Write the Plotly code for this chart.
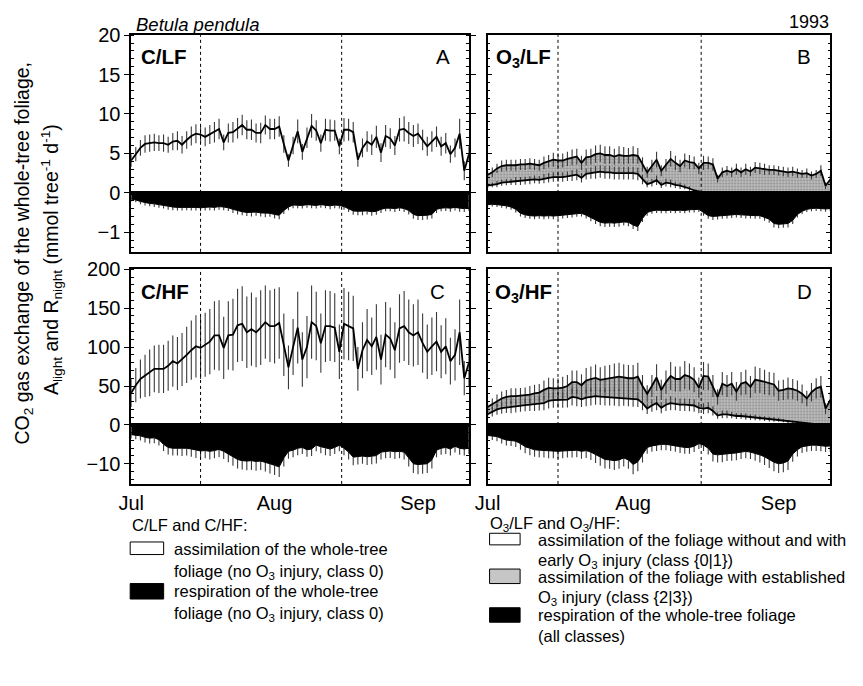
import plotly.graph_objects as go

# The page body has an 8 px margin, so the figure is 847 x 670 inside the 863 x 686 window.
W, H = 847, 670
OFF = 8

# ---------------- data ----------------
days = list(range(74))            # day index from 1 July 1993
month_ticks = [0, 31, 62]
month_labels = ["Jul", "Aug", "Sep"]
marker_days = [15, 45.5]          # dashed reference lines

# Panel A  (C/LF)  -- mmol tree-1 d-1
A_assim = [4.1, 4.9, 5.7, 6.2, 6.3, 6.4, 6.3, 6.3, 6.1, 6.5,
           6.6, 6.1, 6.7, 7.2, 7.5, 7.4, 7.1, 7.4, 7.7, 8.1,
           6.4, 7.6, 7.7, 8.2, 8.6, 8.0, 8.0, 7.6, 7.6, 8.6,
           8.1, 8.1, 8.4, 6.2, 4.1, 6.0, 7.8, 5.2, 7.0, 8.5,
           7.9, 6.3, 8.0, 7.9, 7.9, 5.9, 8.0, 8.0, 7.7, 4.2,
           5.7, 6.5, 6.1, 7.1, 5.1, 7.2, 6.9, 6.0, 8.0, 8.1,
           7.6, 7.2, 7.5, 6.7, 5.9, 6.5, 7.1, 5.9, 6.3, 4.9,
           5.7, 7.5, 2.8, 4.9]
A_assim_sd = [0.8, 0.9, 1.0, 1.1, 1.1, 1.1, 1.0, 1.1, 1.0, 1.1,
              1.2, 1.1, 1.1, 1.2, 1.2, 1.1, 1.2, 1.2, 1.3, 1.3,
              1.0, 1.2, 1.3, 1.3, 1.3, 1.2, 1.3, 1.2, 1.3, 1.2,
              1.3, 1.3, 1.3, 1.1, 0.8, 1.1, 1.5, 1.0, 1.3, 1.5,
              1.3, 1.1, 1.4, 1.4, 1.3, 1.0, 1.5, 1.4, 1.3, 0.9,
              1.2, 1.3, 1.3, 1.4, 1.2, 1.4, 1.3, 1.2, 1.5, 1.6,
              1.4, 1.4, 1.3, 1.3, 1.2, 1.3, 1.3, 1.2, 1.3, 1.1,
              1.2, 1.9, 1.2, 1.0]
A_resp = [-0.16, -0.18, -0.22, -0.25, -0.27, -0.28, -0.30, -0.32, -0.35, -0.36,
          -0.37, -0.37, -0.36, -0.37, -0.37, -0.38, -0.37, -0.36, -0.37, -0.35,
          -0.36, -0.38, -0.42, -0.46, -0.48, -0.50, -0.50, -0.49, -0.51, -0.52,
          -0.52, -0.55, -0.57, -0.45, -0.36, -0.31, -0.31, -0.32, -0.30, -0.31,
          -0.32, -0.30, -0.31, -0.33, -0.31, -0.32, -0.35, -0.40, -0.46, -0.47,
          -0.47, -0.46, -0.48, -0.47, -0.42, -0.39, -0.39, -0.40, -0.38, -0.40,
          -0.45, -0.55, -0.58, -0.58, -0.57, -0.55, -0.42, -0.39, -0.38, -0.39,
          -0.37, -0.39, -0.40, -0.38]
A_resp_sd = [0.06, 0.06, 0.07, 0.07, 0.07, 0.08, 0.08, 0.08, 0.08, 0.08,
             0.08, 0.08, 0.08, 0.08, 0.08, 0.09, 0.08, 0.08, 0.08, 0.08,
             0.08, 0.08, 0.09, 0.09, 0.09, 0.09, 0.10, 0.09, 0.09, 0.10,
             0.09, 0.10, 0.10, 0.09, 0.08, 0.08, 0.08, 0.08, 0.08, 0.08,
             0.08, 0.08, 0.08, 0.09, 0.08, 0.08, 0.08, 0.09, 0.10, 0.10,
             0.10, 0.09, 0.10, 0.09, 0.09, 0.08, 0.08, 0.09, 0.08, 0.09,
             0.10, 0.11, 0.11, 0.11, 0.11, 0.10, 0.09, 0.08, 0.08, 0.09,
             0.08, 0.09, 0.09, 0.08]

# Panel C  (C/HF)
C_assim = [41, 51, 59, 63, 67, 72, 72, 72, 76, 82,
           79, 84, 90, 96, 101, 99, 103, 107, 115, 115,
           99, 115, 116, 128, 130, 119, 123, 119, 125, 132,
           127, 127, 131, 103, 74, 100, 125, 84, 100, 132,
           127, 105, 127, 127, 125, 94, 130, 127, 124, 72,
           96, 109, 101, 113, 84, 116, 111, 96, 124, 127,
           119, 115, 119, 105, 94, 101, 107, 94, 101, 82,
           90, 119, 60, 80]
C_assim_sd = [18, 22, 25, 27, 30, 30, 31, 31, 32, 33,
              34, 34, 36, 38, 40, 40, 41, 42, 44, 45,
              40, 44, 46, 47, 48, 46, 47, 45, 48, 47,
              46, 48, 46, 40, 28, 36, 46, 35, 40, 47,
              44, 38, 46, 45, 44, 35, 46, 44, 42, 28,
              36, 40, 37, 42, 32, 42, 40, 36, 44, 45,
              42, 40, 42, 38, 35, 37, 38, 34, 36, 30,
              33, 42, 22, 30]
C_resp = [-2.5, -2.6, -2.8, -3.2, -3.4, -3.3, -3.8, -5.0, -5.8, -6.0,
          -6.0, -6.1, -6.0, -6.2, -6.5, -6.7, -6.6, -6.8, -6.6, -6.3,
          -6.8, -7.5, -8.3, -8.9, -9.2, -9.3, -9.2, -9.4, -9.3, -9.6,
          -10.0, -10.4, -10.8, -8.5, -6.8, -6.5, -6.0, -5.8, -6.4, -6.2,
          -5.2, -5.6, -6.0, -6.2, -5.8, -5.2, -6.0, -7.0, -8.3, -8.1,
          -8.0, -8.2, -8.1, -7.9, -7.0, -6.8, -6.7, -6.9, -6.8, -7.0,
          -8.5, -10.0, -10.2, -10.1, -10.0, -9.0, -6.5, -6.0, -5.8, -6.2,
          -5.5, -6.0, -6.2, -5.9]
C_resp_sd = [1.0, 1.1, 1.2, 1.3, 1.4, 1.4, 1.5, 1.7, 1.8, 1.9,
             1.9, 1.9, 1.9, 2.0, 2.0, 2.0, 2.0, 2.1, 2.0, 2.0,
             2.0, 2.1, 2.2, 2.3, 2.3, 2.4, 2.4, 2.4, 2.3, 2.4,
             2.5, 2.5, 2.6, 2.2, 1.9, 1.8, 1.8, 1.7, 1.8, 1.8,
             1.6, 1.7, 1.8, 1.8, 1.7, 1.6, 1.8, 1.9, 2.1, 2.1,
             2.0, 2.1, 2.0, 2.0, 1.9, 1.8, 1.8, 1.9, 1.8, 1.9,
             2.2, 2.4, 2.5, 2.5, 2.4, 2.2, 1.8, 1.7, 1.7, 1.7,
             1.6, 1.7, 1.7, 1.6]

# Panel B  (O3/LF): total assimilation and class {0|1} assimilation
B_total = [2.3, 2.6, 3.1, 3.4, 3.5, 3.5, 3.5, 3.6, 3.6, 3.7,
           3.6, 3.5, 3.8, 4.0, 4.2, 4.1, 4.1, 4.3, 4.5, 4.6,
           3.8, 4.5, 4.6, 4.9, 5.0, 4.8, 4.8, 4.6, 4.8, 4.7,
           4.7, 4.8, 4.7, 3.6, 2.6, 3.4, 4.2, 2.8, 3.5, 4.3,
           3.8, 3.4, 4.1, 3.9, 3.8, 3.1, 3.8, 3.8, 3.6, 1.8,
           2.6, 2.8, 2.6, 3.0, 2.6, 3.0, 2.7, 3.2, 3.1, 3.0,
           2.9, 2.9, 2.8, 2.7, 2.6, 2.7, 2.5, 2.4, 2.5, 2.2,
           2.4, 2.8, 0.9, 1.7]
B_total_sd = [0.5, 0.6, 0.6, 0.7, 0.7, 0.7, 0.7, 0.7, 0.7, 0.7,
              0.7, 0.7, 0.8, 0.8, 0.9, 0.9, 0.9, 0.9, 1.0, 1.0,
              0.9, 1.0, 1.0, 1.1, 1.1, 1.1, 1.1, 1.0, 1.1, 1.1,
              1.0, 1.1, 1.0, 0.9, 0.7, 0.8, 1.0, 0.7, 0.8, 1.0,
              0.9, 0.8, 0.9, 0.9, 0.8, 0.7, 0.9, 0.8, 0.8, 0.5,
              0.6, 0.6, 0.6, 0.7, 0.6, 0.7, 0.6, 0.7, 0.7, 0.7,
              0.6, 0.6, 0.6, 0.6, 0.6, 0.6, 0.6, 0.5, 0.6, 0.5,
              0.5, 0.7, 0.4, 0.5]
B_class01 = [0.9, 1.0, 1.1, 1.3, 1.35, 1.4, 1.5, 1.5, 1.55, 1.6,
             1.7, 1.65, 1.8, 1.9, 2.0, 2.0, 2.0, 2.1, 2.2, 2.3,
             1.9, 2.4, 2.5, 2.6, 2.7, 2.6, 2.6, 2.5, 2.5, 2.5,
             2.5, 2.5, 2.4, 1.7, 1.1, 1.3, 1.6, 1.0, 1.3, 1.2,
             1.0, 0.9, 0.75, 0.55, 0.3, 0.15, 0.05, 0.0, 0.0, 0.0,
             0.0, 0.0, 0.0, 0.0, 0.0, 0.0, 0.0, 0.0, 0.0, 0.0,
             0.0, 0.0, 0.0, 0.0, 0.0, 0.0, 0.0, 0.0, 0.0, 0.0,
             0.0, 0.0, 0.0, 0.0]
B_class01_sd = [0.3, 0.3, 0.4, 0.4, 0.4, 0.4, 0.5, 0.5, 0.5, 0.5,
                0.5, 0.5, 0.6, 0.6, 0.6, 0.6, 0.6, 0.6, 0.7, 0.7,
                0.6, 0.7, 0.7, 0.8, 0.8, 0.8, 0.8, 0.8, 0.8, 0.8,
                0.8, 0.8, 0.8, 0.6, 0.4, 0.5, 0.6, 0.4, 0.5, 0.5,
                0.4, 0.4, 0.3, 0.3, 0.2, 0.1, 0.05, 0.0, 0.0, 0.0,
                0.0, 0.0, 0.0, 0.0, 0.0, 0.0, 0.0, 0.0, 0.0, 0.0,
                0.0, 0.0, 0.0, 0.0, 0.0, 0.0, 0.0, 0.0, 0.0, 0.0,
                0.0, 0.0, 0.0, 0.0]
B_resp = [-0.30, -0.29, -0.30, -0.31, -0.33, -0.36, -0.42, -0.52, -0.56, -0.58,
          -0.59, -0.58, -0.59, -0.58, -0.59, -0.58, -0.57, -0.56, -0.55, -0.53,
          -0.52, -0.57, -0.63, -0.70, -0.75, -0.77, -0.76, -0.77, -0.76, -0.74,
          -0.75, -0.82, -0.86, -0.65, -0.50, -0.46, -0.44, -0.45, -0.45, -0.44,
          -0.45, -0.44, -0.45, -0.43, -0.43, -0.42, -0.50, -0.58, -0.60, -0.59,
          -0.58, -0.57, -0.56, -0.55, -0.56, -0.57, -0.57, -0.58, -0.58, -0.62,
          -0.67, -0.78, -0.80, -0.79, -0.78, -0.70, -0.55, -0.47, -0.42, -0.40,
          -0.39, -0.40, -0.41, -0.40]
B_resp_sd = [0.06, 0.06, 0.06, 0.07, 0.07, 0.07, 0.08, 0.08, 0.08, 0.08,
             0.08, 0.08, 0.08, 0.08, 0.08, 0.08, 0.08, 0.08, 0.08, 0.08,
             0.08, 0.08, 0.09, 0.09, 0.10, 0.10, 0.10, 0.10, 0.10, 0.09,
             0.10, 0.10, 0.11, 0.09, 0.08, 0.07, 0.07, 0.07, 0.07, 0.07,
             0.07, 0.07, 0.07, 0.07, 0.07, 0.07, 0.08, 0.08, 0.09, 0.09,
             0.08, 0.08, 0.08, 0.08, 0.08, 0.08, 0.08, 0.08, 0.08, 0.09,
             0.09, 0.10, 0.10, 0.10, 0.10, 0.09, 0.08, 0.07, 0.07, 0.07,
             0.07, 0.07, 0.07, 0.07]

# Panel D  (O3/HF)
D_total = [23, 27, 31, 34, 36, 37, 37, 37.5, 38, 39,
           40.5, 41.5, 45, 47.5, 47, 47, 48, 50, 55, 55,
           51, 57, 59, 60.5, 58, 59, 60, 61, 62, 61,
           60, 60, 62, 50, 40, 50, 61, 45, 55, 63,
           59, 59, 64, 62, 58, 48, 63, 62, 50, 36,
           53, 50, 53, 43, 53, 55, 49, 58, 57, 55,
           53, 52, 44, 45, 47, 46, 44, 40, 34, 42,
           47, 49, 21, 32]
D_total_sd = [6, 7, 8, 9, 9, 10, 10, 10, 10, 11,
              11, 11, 12, 13, 13, 13, 14, 14, 15, 15,
              14, 16, 16, 17, 16, 17, 17, 18, 18, 17,
              17, 17, 18, 14, 11, 14, 17, 13, 15, 18,
              16, 16, 18, 17, 16, 13, 18, 17, 14, 10,
              15, 14, 15, 12, 15, 16, 14, 17, 16, 16,
              15, 15, 13, 13, 14, 13, 13, 12, 10, 12,
              13, 14, 7, 10]
D_class01 = [13.7, 17, 20, 21.5, 22.5, 23, 24, 25, 25.5, 26,
             27, 27.5, 28, 31, 32, 32, 32, 32.5, 36, 35,
             33, 35, 36, 37, 36.5, 36, 36, 35.5, 35, 34.5,
             34, 33.5, 33, 28, 21, 25, 28, 22, 26, 28,
             27, 26, 26, 25.5, 25, 22, 21, 22, 18, 12,
             13.5, 13.7, 12.5, 11.5, 11.5, 10.8, 10, 9.5, 8.7, 8.2,
             7.5, 7.2, 6.6, 5.5, 4.5, 3.8, 3.2, 2.5, 2.0, 1.5,
             1.0, 0.6, 0.3, 0.1]
D_class01_sd = [5, 6, 7, 7, 7, 8, 8, 8, 8, 8,
                9, 9, 9, 10, 10, 10, 10, 10, 11, 11,
                10, 11, 11, 11, 11, 11, 11, 11, 11, 10,
                10, 10, 10, 9, 7, 8, 9, 7, 8, 9,
                8, 8, 8, 8, 8, 7, 7, 7, 6, 4,
                5, 5, 4, 4, 4, 4, 3.5, 3.5, 3, 3,
                3, 3, 2.5, 2, 2, 1.5, 1.5, 1, 1, 0.8,
                0.5, 0.3, 0.2, 0.1]
D_resp = [-2.7, -2.8, -3.0, -3.5, -3.9, -4.0, -4.2, -4.8, -5.6, -6.0,
          -6.4, -6.5, -6.6, -6.7, -6.7, -6.8, -6.7, -6.6, -6.6, -6.5,
          -6.8, -6.6, -7.0, -7.7, -8.3, -8.9, -9.0, -9.2, -9.0, -8.5,
          -9.0, -10.2, -9.5, -7.7, -5.8, -5.4, -5.2, -5.0, -5.0, -5.2,
          -5.4, -5.6, -5.8, -5.8, -5.5, -4.8, -5.2, -6.0, -7.5, -7.7,
          -7.6, -7.4, -7.3, -7.2, -7.0, -6.8, -7.0, -7.3, -7.7, -8.2,
          -8.9, -9.6, -10.0, -9.8, -9.3, -7.5, -6.4, -5.6, -5.4, -5.2,
          -5.2, -5.3, -5.5, -5.4]
D_resp_sd = [1.0, 1.1, 1.2, 1.3, 1.4, 1.4, 1.5, 1.6, 1.7, 1.8,
             1.8, 1.8, 1.8, 1.9, 1.9, 1.9, 1.9, 1.8, 1.8, 1.8,
             1.9, 1.9, 2.0, 2.1, 2.2, 2.3, 2.3, 2.4, 2.3, 2.2,
             2.3, 2.5, 2.4, 2.0, 1.6, 1.5, 1.5, 1.5, 1.5, 1.5,
             1.5, 1.6, 1.6, 1.6, 1.5, 1.4, 1.5, 1.6, 1.9, 2.0,
             2.0, 1.9, 1.9, 1.9, 1.8, 1.8, 1.8, 1.9, 2.0, 2.1,
             2.2, 2.3, 2.4, 2.4, 2.3, 2.0, 1.7, 1.6, 1.5, 1.5,
             1.5, 1.5, 1.5, 1.5]

for arr in [A_assim, A_assim_sd, A_resp, A_resp_sd, C_assim, C_assim_sd, C_resp, C_resp_sd,
            B_total, B_total_sd, B_class01, B_class01_sd, B_resp, B_resp_sd,
            D_total, D_total_sd, D_class01, D_class01_sd, D_resp, D_resp_sd]:
    assert len(arr) == len(days), len(arr)

# ---------------- layout helpers ----------------
FONT = "Liberation Sans, Arial, Helvetica, sans-serif"
def fx(p): return (p - OFF) / W          # page pixel -> paper fraction
def fy(p): return 1 - (p - OFF) / H

cols = {"L": (128, 471), "R": (490, 838)}
rows = {"top": (33, 196, 257), "bot": (275, 436, 497)}

panels = [
    # key, col, row, pos range, pos ticks, neg range, neg ticks, pos minor, neg minor
    ("A", "L", "top", [0, 20], [0, 5, 10, 15, 20], [-1.5, 0], [-1], 1, 0.2),
    ("B", "R", "top", [0, 20], [0, 5, 10, 15, 20], [-1.5, 0], [-1], 1, 0.2),
    ("C", "L", "bot", [0, 200], [0, 50, 100, 150, 200], [-15.2, 0], [-10], 10, 2),
    ("D", "R", "bot", [0, 200], [0, 50, 100, 150, 200], [-15.2, 0], [-10], 10, 2),
]

fig = go.Figure()
layout = dict(
    width=W, height=H, margin=dict(l=0, r=0, t=0, b=0), autosize=False,
    paper_bgcolor="white", plot_bgcolor="white", showlegend=False,
    font=dict(family=FONT, color="black", size=17),
)
shapes = []
annotations = []
axis_ids = {}

ERR_COL = "#3a3a3a"

for i, (key, col, row, prng, pticks, nrng, nticks, pmin, nmin) in enumerate(panels):
    up = 2 * i + 1
    lo = 2 * i + 2
    axis_ids[key] = (up, lo)
    x0, x1 = cols[col]
    ytop, yzero, ybot = rows[row]
    left = col == "L"
    bottom = row == "bot"
    for n, dom, rng, tv, mn in [(up, [fy(yzero), fy(ytop)], prng, pticks, pmin),
                                (lo, [fy(ybot), fy(yzero)], nrng, nticks, nmin)]:
        xs = "" if n == 1 else str(n)
        layout["xaxis" + xs] = dict(
            domain=[fx(x0), fx(x1)], anchor="y" + xs, range=[0, 73],
            showline=True, mirror=True, linecolor="black", linewidth=1.5,
            showgrid=False, zeroline=False,
            ticks="", showticklabels=(bottom and n == lo),
            tickvals=month_ticks, ticktext=month_labels,
            tickfont=dict(family=FONT, size=20, color="black"),
        )
        layout["yaxis" + xs] = dict(
            domain=dom, anchor="x" + xs, range=rng,
            showline=True, mirror="allticks", linecolor="black", linewidth=1.5,
            showgrid=False, zeroline=False,
            tickvals=tv, ticks="outside" if left else "inside", ticklen=5,
            tickcolor="black", tickwidth=1.2,
            showticklabels=left,
            tickfont=dict(family=FONT, size=20, color="black"),
            minor=dict(dtick=mn, tick0=0, ticks="inside", ticklen=3,
                       tickcolor="black", tickwidth=1),
        )
        for md in marker_days:
            shapes.append(dict(type="line", xref="x" + xs, yref="y" + xs + " domain",
                               x0=md, x1=md, y0=0, y1=1, layer="above",
                               line=dict(color="black", width=1, dash="dot")))


def tr(n, **kw):
    s = "" if n == 1 else str(n)
    return dict(xaxis="x" + s, yaxis="y" + s, **kw)


def err(arr, **kw):
    d = dict(type="data", array=arr, visible=True, color=ERR_COL, thickness=1.1, width=0)
    d.update(kw)
    return d


zeros = [0 for _ in days]

def add_resp(n, resp, sd):
    fig.add_trace(go.Scatter(
        x=days, y=resp, mode="lines", fill="tozeroy", fillcolor="black",
        line=dict(color="black", width=1),
        error_y=err(zeros, symmetric=False, arrayminus=sd), **tr(n)))

# Panel A & C (controls)
for key, assim, sd, resp, rsd in [("A", A_assim, A_assim_sd, A_resp, A_resp_sd),
                                  ("C", C_assim, C_assim_sd, C_resp, C_resp_sd)]:
    up, lo = axis_ids[key]
    fig.add_trace(go.Scatter(x=days, y=assim, mode="lines",
                             line=dict(color="black", width=1.8),
                             error_y=err(sd), **tr(up)))
    add_resp(lo, resp, rsd)

# Panel B & D (ozone)
for key, low, lsd, tot, tsd, resp, rsd in [
        ("B", B_class01, B_class01_sd, B_total, B_total_sd, B_resp, B_resp_sd),
        ("D", D_class01, D_class01_sd, D_total, D_total_sd, D_resp, D_resp_sd)]:
    up, lo = axis_ids[key]
    fig.add_trace(go.Scatter(x=days, y=low, mode="lines",
                             line=dict(color="black", width=1.8),
                             error_y=err(lsd), **tr(up)))
    fig.add_trace(go.Scatter(x=days, y=tot, mode="lines", fill="tonexty",
                             fillcolor="#c4c4c4",
                             fillpattern=dict(shape=".", fgcolor="#4d4d4d", bgcolor="#c8c8c8",
                                              size=3, solidity=0.45),
                             line=dict(color="black", width=1.8),
                             error_y=err(tsd), **tr(up)))
    add_resp(lo, resp, rsd)

# ---------------- text ----------------
def ann(text, x, y, size=16.5, xanchor="left", yanchor="middle", angle=0, **kw):
    annotations.append(dict(text=text, x=fx(x), y=fy(y), xref="paper", yref="paper",
                            xanchor=xanchor, yanchor=yanchor, showarrow=False,
                            textangle=angle, font=dict(family=FONT, size=size, color="black"),
                            **kw))

ann("<i>Betula pendula</i>", 131, 22, size=18.5)
ann("1993", 839, 19, size=18, xanchor="right")

ann("<b>C/LF</b>", 136, 55, size=20.5)
ann("A", 454, 55, size=20.5, xanchor="right")
ann("<b>O<sub>3</sub>/LF</b>", 497, 57, size=20.5)
ann("B", 820, 55, size=20.5, xanchor="right")
ann("<b>C/HF</b>", 136, 298, size=20.5)
ann("C", 449, 298, size=20.5, xanchor="right")
ann("<b>O<sub>3</sub>/HF</b>", 495, 300, size=20.5)
ann("D", 821, 298, size=20.5, xanchor="right")

ann("CO<sub>2</sub> gas exchange of the whole-tree foliage,", 19, 258, size=19.5,
    xanchor="center", angle=-90)
ann("A<sub>light</sub> and R<sub>night</sub> (mmol tree<sup>-1</sup> d<sup>-1</sup>)", 47, 265,
    size=19.5, xanchor="center", angle=-90)

# legend blocks
ann("C/LF and C/HF:", 127, 539)
ann("assimilation of the whole-tree", 169, 564)
ann("foliage (no O<sub>3</sub> injury, class 0)", 169, 588)
ann("respiration of the whole-tree", 169, 608)
ann("foliage (no O<sub>3</sub> injury, class 0)", 169, 631)

ann("O<sub>3</sub>/LF and O<sub>3</sub>/HF:", 490, 538)
ann("assimilation of the foliage without and with", 539, 555)
ann("early O<sub>3</sub> injury (class {0|1})", 539, 577)
ann("assimilation of the foliage with established", 539, 593)
ann("O<sub>3</sub> injury (class {2|3})", 539, 615)
ann("respiration of the whole-tree foliage", 539, 633)
ann("(all classes)", 539, 654)

def box(x0, y0, x1, y1, fill):
    shapes.append(dict(type="rect", xref="paper", yref="paper",
                       x0=fx(x0), x1=fx(x1), y0=fy(y1), y1=fy(y0),
                       fillcolor=fill, line=dict(color="black", width=1)))

box(127, 557, 161, 570, "white")
box(127, 600, 161, 616, "black")
box(492, 548, 523, 560, "white")
box(492, 585, 523, 600, "#c6c6c6")
box(492, 625, 523, 640, "black")

layout["shapes"] = shapes
layout["annotations"] = annotations
fig.update_layout(**layout)
fig.write_html("out.html")
